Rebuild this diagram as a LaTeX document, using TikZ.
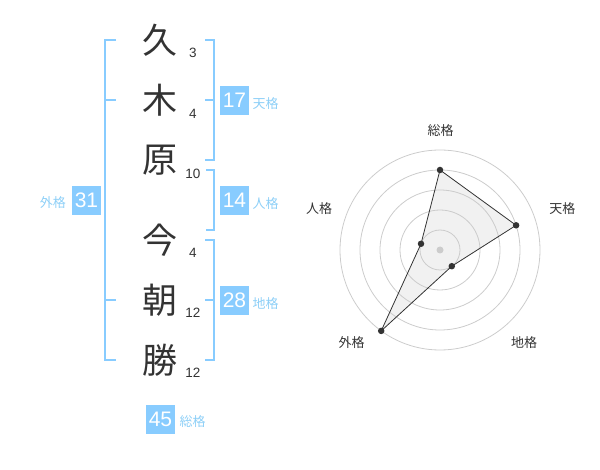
\documentclass[tikz,border=0pt]{standalone}
\usepackage{fontspec}
\setmainfont{Liberation Sans}
\newfontfamily\jp{Noto Sans CJK JP}
\definecolor{blu}{HTML}{88CCFF}
\definecolor{blutxt}{HTML}{8DCFF7}
\definecolor{ink}{HTML}{333333}
\definecolor{ring}{HTML}{CCCCCC}
\definecolor{polyfill}{HTML}{F1F1F1}
\begin{document}
\begin{tikzpicture}[x=1pt,y=-1pt,
  kanji/.style={inner sep=0pt,text=ink,font=\jp\fontsize{35}{35}\selectfont},
  strokes/.style={inner sep=0pt,text=ink,font=\fontsize{13.5}{14}\selectfont},
  numbox/.style={fill=blu,minimum width=29pt,minimum height=29pt,inner sep=0pt,text=white,font=\fontsize{21}{22}\selectfont},
  kaku/.style={inner sep=0pt,text=blutxt,font=\jp\fontsize{13}{13}\selectfont},
  brk/.style={draw=blu,line width=2pt},
  axislabel/.style={inner sep=0pt,text=ink,font=\jp\fontsize{13}{13}\selectfont},
  ringline/.style={draw=ring,line width=0.8pt},
  dot/.style={circle,fill=ink,inner sep=0pt,minimum size=6.5pt},
]
\useasboundingbox (0,0) rectangle (600,470);
% kanji
\node[kanji] (k1) at (160,40) {久};
\node[kanji] (k2) at (160,100) {木};
\node[kanji] (k3) at (160,160) {原};
\node[kanji] (k4) at (160,240) {今};
\node[kanji] (k5) at (160,300) {朝};
\node[kanji] (k6) at (160,360) {勝};
% stroke counts
\node[strokes] (s1) at (193,52.5) {3};
\node[strokes] (s2) at (193,113.5) {4};
\node[strokes] (s3) at (193,173.5) {10};
\node[strokes] (s4) at (193,252.5) {4};
\node[strokes] (s5) at (193,312.5) {12};
\node[strokes] (s6) at (193,372.5) {12};
% brackets
\draw[brk] (116,40) -- (105,40) -- (105,360) -- (116,360);
\draw[brk] (105,100) -- (116,100);
\draw[brk] (105,300) -- (116,300);
\draw[brk] (205,40) -- (214,40) -- (214,160) -- (205,160);
\draw[brk] (205,100) -- (214,100);
\draw[brk] (206,170) -- (214,170) -- (214,230) -- (206,230);
\draw[brk] (205,240) -- (214,240) -- (214,360) -- (205,360);
\draw[brk] (205,300) -- (214,300);
% boxes
\node[numbox] (ten) at (234.5,100.5) {17};
\node[kaku,anchor=west] (tenl) at (252.5,104) {天格};
\node[numbox] (jin) at (234.5,200.5) {14};
\node[kaku,anchor=west] (jinl) at (252.5,204) {人格};
\node[numbox] (chi) at (234.5,300.5) {28};
\node[kaku,anchor=west] (chil) at (252.5,304) {地格};
\node[numbox] (gai) at (86.5,200.5) {31};
\node[kaku,anchor=east] (gail) at (66,203) {外格};
\node[numbox] (sou) at (160.5,419.5) {45};
\node[kaku,anchor=west] (soul) at (179.5,422) {総格};
% radar
\coordinate (C) at (440,250);
\coordinate (pS) at (440,170);
\coordinate (pT) at (516.1,225.3);
\coordinate (pC) at (451.8,266.2);
\coordinate (pG) at (381.2,330.9);
\coordinate (pJ) at (421,243.8);
\fill[polyfill] (pS) -- (pT) -- (pC) -- (pG) -- (pJ) -- cycle;
\foreach \r in {20,40,60,80,100} \draw[ringline] (C) circle[radius=\r];
\fill[ring] (C) circle[radius=3.5];
\draw[ink,line width=0.8pt] (pS) -- (pT) -- (pC) -- (pG) -- (pJ) -- cycle;
\foreach \p in {pS,pT,pC,pG,pJ} \node[dot] at (\p) {};
\node[axislabel] (aS) at (440.7,130.5) {総格};
\node[axislabel] (aT) at (562.3,208.5) {天格};
\node[axislabel] (aC) at (524,342.3) {地格};
\node[axislabel] (aG) at (351.7,342.3) {外格};
\node[axislabel] (aJ) at (319,208.5) {人格};
\end{tikzpicture}
\end{document}
